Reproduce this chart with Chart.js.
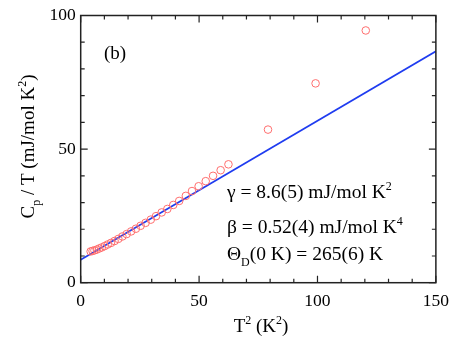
<!DOCTYPE html>
<html>
<head>
<meta charset="utf-8">
<script src="https://cdn.jsdelivr.net/npm/chart.js@4.4.1/dist/chart.umd.min.js"></script>
<style>
  html, body { margin: 0; padding: 0; background: #fff; }
  #wrap { width: 457px; height: 340px; }
</style>
</head>
<body>
<div id="wrap"><canvas id="myChart" width="457" height="340"></canvas></div>
<script>
// data
const t2 = [4.2, 5.0, 5.8, 6.8, 7.8, 8.9, 10.1, 11.4, 12.8, 14.3, 15.9, 17.6, 19.4, 21.3, 23.3,
  25.3, 27.4, 29.6, 31.8, 34.2, 36.6, 39.1, 41.6, 44.4, 47.0, 49.8, 52.8, 55.9, 59.1, 62.4,
  79.1, 99.2, 120.4];
const cpT = [11.7, 11.9, 12.1, 12.4, 12.8, 13.2, 13.7, 14.3, 14.9, 15.6, 16.4, 17.3, 18.2, 19.2, 20.2,
  21.3, 22.4, 23.6, 24.9, 26.3, 27.6, 29.1, 30.6, 32.5, 34.3, 36.1, 38.0, 40.0, 42.1, 44.3,
  57.3, 74.6, 94.4];
const fitX = [0, 150];
const fitY = [8.6, 86.6];
const xTicks = [0, 50, 100, 150];
const yTicks = [0, 50, 100];

const SERIF = '"Liberation Serif", "DejaVu Serif", serif';

// draw text made of pieces with sub/superscripts
function richWidth(ctx, parts, size) {
  let w = 0;
  parts.forEach(p => {
    ctx.font = (p.s ? Math.round(size * 0.62) : size) + 'px ' + SERIF;
    w += ctx.measureText(p.t).width;
  });
  return w;
}
function drawRich(ctx, parts, x, y, size, align) {
  let w = richWidth(ctx, parts, size);
  let cx = align === 'center' ? x - w / 2 : x;
  ctx.textBaseline = 'alphabetic';
  ctx.textAlign = 'left';
  parts.forEach(p => {
    let dy = 0;
    if (p.s === 'sub') dy = size * 0.3;
    if (p.s === 'sup') dy = -size * 0.42;
    ctx.font = (p.s ? Math.round(size * 0.62) : size) + 'px ' + SERIF;
    ctx.fillText(p.t, cx, y + dy);
    cx += ctx.measureText(p.t).width;
  });
}

const decor = {
  id: 'decor',
  afterDraw(chart) {
    const ctx = chart.ctx;
    const a = chart.chartArea;
    const xs = chart.scales.x, ys = chart.scales.y;
    ctx.save();
    ctx.strokeStyle = '#222';
    ctx.lineWidth = 1.5;
    ctx.strokeRect(a.left, a.top, a.right - a.left, a.bottom - a.top);
    ctx.lineWidth = 1.2;
    ctx.beginPath();
    for (let v = 0; v <= 150; v += 10) {
      const px = xs.getPixelForValue(v);
      const len = v % 50 === 0 ? 7 : 4;
      ctx.moveTo(px, a.bottom); ctx.lineTo(px, a.bottom - len);
      ctx.moveTo(px, a.top); ctx.lineTo(px, a.top + len);
    }
    for (let v = 0; v <= 100; v += 10) {
      const py = ys.getPixelForValue(v);
      const len = v % 50 === 0 ? 7 : 4;
      ctx.moveTo(a.left, py); ctx.lineTo(a.left + len, py);
      ctx.moveTo(a.right, py); ctx.lineTo(a.right - len, py);
    }
    ctx.stroke();

    ctx.fillStyle = '#000';
    // panel label
    ctx.font = '19px ' + SERIF;
    ctx.fillText('(b)', 104, 59);

    // fit parameters
    drawRich(ctx, [{t: 'γ = 8.6(5) mJ/mol K'}, {t: '2', s: 'sup'}], 227, 198, 19.5, 'left');
    drawRich(ctx, [{t: 'β = 0.52(4) mJ/mol K'}, {t: '4', s: 'sup'}], 227, 233, 19.5, 'left');
    drawRich(ctx, [{t: 'Θ'}, {t: 'D', s: 'sub'}, {t: '(0 K) = 265(6) K'}], 227, 260, 19.5, 'left');

    // x title
    drawRich(ctx, [{t: 'T'}, {t: '2', s: 'sup'}, {t: ' (K'}, {t: '2', s: 'sup'}, {t: ')'}], 261, 332, 19, 'center');

    // y title
    ctx.translate(34, 146.5);
    ctx.rotate(-Math.PI / 2);
    drawRich(ctx, [{t: 'C'}, {t: 'p', s: 'sub'}, {t: ' / T (mJ/mol K'}, {t: '2', s: 'sup'}, {t: ')'}], 0, 0, 19, 'center');
    ctx.restore();
  }
};

const ctx = document.getElementById('myChart').getContext('2d');
new Chart(ctx, {
  type: 'scatter',
  data: {
    datasets: [{
      label: 'data',
      data: t2.map((x, i) => ({x: x, y: cpT[i]})),
      pointStyle: 'circle',
      pointRadius: 3.8,
      borderColor: 'rgb(255, 110, 110)',
      backgroundColor: 'rgba(0,0,0,0)',
      borderWidth: 1
    }, {
      label: 'fit',
      data: fitX.map((x, i) => ({x: x, y: fitY[i]})),
      showLine: true,
      pointRadius: 0,
      borderColor: '#1f3cf0',
      borderWidth: 1.6
    }]
  },
  options: {
    responsive: false,
    animation: false,
    layout: { padding: { top: 15, right: 19.3, left: 0, bottom: 0 } },
    plugins: { legend: { display: false }, tooltip: { enabled: false } },
    scales: {
      x: {
        type: 'linear', min: 0, max: 150,
        afterBuildTicks: s => { s.ticks = xTicks.map(v => ({value: v})); },
        afterFit: s => { s.height = 57.3; },
        grid: { drawOnChartArea: false, drawTicks: false },
        border: { display: false },
        ticks: { color: '#000', padding: 8, maxRotation: 0, font: { family: SERIF, size: 17.5 } }
      },
      y: {
        type: 'linear', min: 0, max: 100,
        afterBuildTicks: s => { s.ticks = yTicks.map(v => ({value: v})); },
        afterFit: s => { s.width = 80.7; },
        grid: { drawOnChartArea: false, drawTicks: false },
        border: { display: false },
        ticks: { color: '#000', padding: 5, font: { family: SERIF, size: 17.5 } }
      }
    }
  },
  plugins: [decor]
});
</script>
</body>
</html>
